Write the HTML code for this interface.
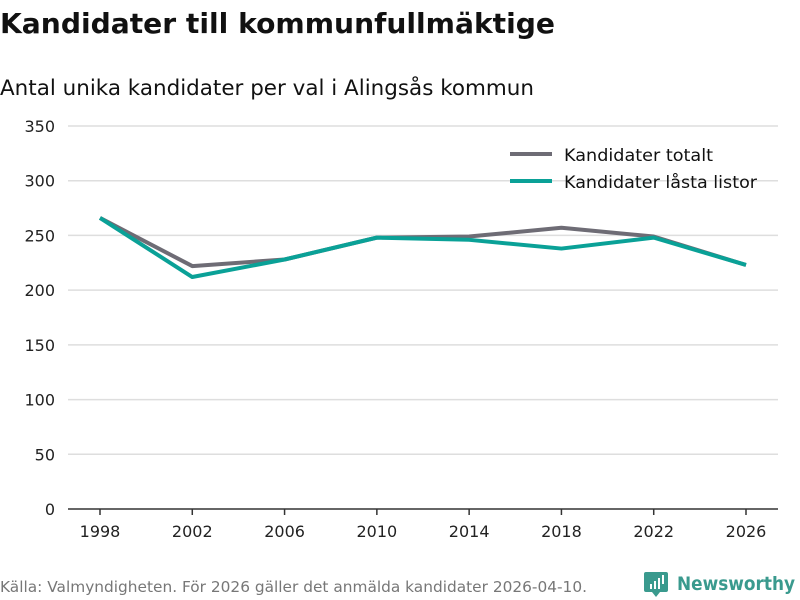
<!DOCTYPE html>
<html><head><meta charset="utf-8"><style>
body{margin:0;background:#fff;font-family:"DejaVu Sans","Liberation Sans",sans-serif;}
#c{width:800px;height:600px;position:relative;overflow:hidden}
</style></head><body>
<div id="c">
<svg id="s" width="800" height="600">
<text x="0" y="33" font-size="28" font-weight="bold" fill="#111" textLength="555" lengthAdjust="spacingAndGlyphs">Kandidater till kommunfullmäktige</text>
<text x="0" y="95" font-size="21" fill="#111" textLength="534" lengthAdjust="spacingAndGlyphs">Antal unika kandidater per val i Alingsås kommun</text>
<g id="grid"></g>
<g id="yt"></g>
<g id="xt"></g>
<g id="lines"></g>
<g>
<line x1="510" y1="154" x2="552" y2="154" stroke="#6e6c75" stroke-width="4"/>
<text x="564" y="161" font-size="17" fill="#111" textLength="149" lengthAdjust="spacingAndGlyphs">Kandidater totalt</text>
<line x1="510" y1="181" x2="552" y2="181" stroke="#0aa197" stroke-width="4"/>
<text x="564" y="188" font-size="17" fill="#111" textLength="193" lengthAdjust="spacingAndGlyphs">Kandidater låsta listor</text>
</g>
<text x="0" y="592" font-size="15" fill="#777" textLength="587" lengthAdjust="spacingAndGlyphs">Källa: Valmyndigheten. För 2026 gäller det anmälda kandidater 2026-04-10.</text>
<g>
<path d="M646 572 h20 a2 2 0 0 1 2 2 v16 a2 2 0 0 1 -2 2 h-6 l-4 5 l-4 -5 h-6 a2 2 0 0 1 -2 -2 v-16 a2 2 0 0 1 2 -2z" fill="#3a9a8e"/>
<rect x="650" y="584" width="2" height="5" fill="#fff"/><rect x="654" y="581" width="2" height="8" fill="#fff"/><rect x="658" y="578" width="2" height="11" fill="#fff"/><rect x="662" y="575" width="2" height="9" fill="#fff"/>
<text x="677" y="590" font-size="19" font-weight="bold" fill="#3a9a8e" textLength="118" lengthAdjust="spacingAndGlyphs">Newsworthy</text>
</g>
</svg></div>
<script>
const years=[1998,2002,2006,2010,2014,2018,2022,2026];
const totalt=[266,222,228,248,249,257,249,223];
const lasta=[266,212,228,248,246,238,248,223];
const yTicks=[0,50,100,150,200,250,300,350];
const NS="http://www.w3.org/2000/svg";
const x=v=>100+(v-1998)*(646/28);
const y=v=>509-v*(383/350);
function mk(t,a,p){const e=document.createElementNS(NS,t);for(const k in a)e.setAttribute(k,a[k]);document.getElementById(p).appendChild(e);return e;}
yTicks.forEach(v=>{
 if(v>0){const l=mk('line',{x1:68,x2:778,y1:y(v),y2:y(v),stroke:'#dedede','stroke-width':1.5},'grid');
 
 }
 const t=mk('text',{x:55,y:y(v)+6,'font-size':16,fill:'#222','text-anchor':'end'},'yt');t.textContent=v;
 
 
});
const ax=mk('line',{x1:68,x2:778,y1:509,y2:509,stroke:'#333','stroke-width':1.5},'grid');


years.forEach(v=>{
 const tk=mk('line',{x1:x(v),x2:x(v),y1:509,y2:515,stroke:'#333','stroke-width':1.5},'xt');
 
 
 const t=mk('text',{x:x(v),y:537,'font-size':16,fill:'#222','text-anchor':'middle'},'xt');t.textContent=v;
 
 
});
[[totalt,'#6e6c75','line-totalt'],[lasta,'#0aa197','line-lasta']].forEach(([d,c,n])=>{
 const p=mk('polyline',{points:d.map((v,i)=>x(years[i])+','+y(v)).join(' '),fill:'none',stroke:c,'stroke-width':4,'stroke-linejoin':'round'},'lines');
 
 
});
</script></body></html>
